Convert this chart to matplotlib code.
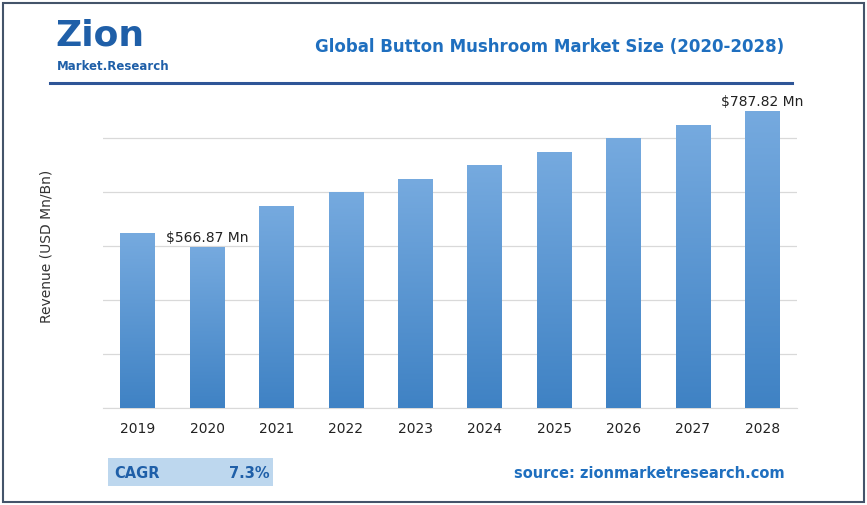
import numpy as np
import matplotlib.pyplot as plt
from matplotlib.patches import Rectangle

years = ['2019', '2020', '2021', '2022', '2023', '2024', '2025', '2026', '2027', '2028']
revenue = [589.6, 566.87, 633.5, 656.2, 677.3, 700.1, 721.2, 743.9, 765.1, 787.82]
labelled = {1: '$566.87 Mn', 9: '$787.82 Mn'}

W, H = 867, 505
fig = plt.figure(figsize=(W / 100, H / 100), dpi=100)
fig.patch.set_facecolor('white')

# outer border
fig.add_artist(Rectangle((3 / W, 3 / H), 1 - 6 / W, 1 - 6 / H, transform=fig.transFigure,
                         fill=False, edgecolor='#44546a', linewidth=1.5))

ax = fig.add_axes([103 / W, (H - 408) / H, 694 / W, 324 / H])
ymin = 305.3
ax.set_ylim(ymin, ymin + 324 * 1.6246)
ax.set_xlim(-0.5, len(years) - 0.5)

grad = np.linspace(0, 1, 256).reshape(-1, 1)
cmap = plt.matplotlib.colors.LinearSegmentedColormap.from_list('g', ['#3f82c4', '#76aadf'])
bars = ax.bar(range(len(years)), [v - ymin for v in revenue], bottom=ymin, width=0.5,
              color='none', zorder=3)
for b in bars:
    im = ax.imshow(grad, cmap=cmap, origin='lower', aspect='auto',
                   extent=[b.get_x(), b.get_x() + b.get_width(), ymin, b.get_y() + b.get_height()],
                   zorder=3)
    im.set_clip_path(b)

for i, txt in labelled.items():
    ax.text(i, revenue[i] + 4, txt, ha='center', va='bottom', fontsize=10, color='#222222')

ax.set_yticks(np.arange(ymin, ymin + 324 * 1.6246, 54 * 1.6246))
ax.yaxis.grid(True, color='#d9d9d9', linewidth=0.9, zorder=0)
ax.set_yticklabels([])
ax.tick_params(axis='y', length=0)
ax.tick_params(axis='x', length=0, pad=10, labelsize=10, colors='#222222')
ax.set_xticks(range(len(years)))
ax.set_xticklabels(years)
for s in ['top', 'right', 'left']:
    ax.spines[s].set_visible(False)
ax.spines['bottom'].set_color('#d9d9d9')
ax.set_ylabel('Revenue (USD Mn/Bn)', fontsize=10, color='#333333', labelpad=32)

# title and rule
fig.text(550 / W, 1 - 47 / H, 'Global Button Mushroom Market Size (2020-2028)', ha='center',
         va='center', fontsize=12, fontweight='bold', color='#1f6fbf')
fig.add_artist(plt.Line2D([50 / W, 792 / W], [1 - 83 / H, 1 - 83 / H], color='#2e5597',
                          linewidth=2.2, transform=fig.transFigure))

# logo
fig.text(55 / W, 1 - 36 / H, 'Zion', fontsize=26, fontweight='bold', color='#1f5fa8',
         va='center', ha='left')
fig.text(57 / W, 1 - 66 / H, 'Market.Research', fontsize=8.5, fontweight='bold', color='#1f5fa8',
         va='center', ha='left')

# CAGR box and source
fig.add_artist(Rectangle((108 / W, 1 - 486 / H), 165 / W, 28 / H, transform=fig.transFigure,
                         facecolor='#bdd7ee', edgecolor='none'))
fig.text(114 / W, 1 - 473 / H, 'CAGR', fontsize=10.5, fontweight='bold', color='#1f5fa8', va='center')
fig.text(270 / W, 1 - 473 / H, '7.3%', fontsize=10.5, fontweight='bold', color='#1f5fa8',
         va='center', ha='right')
fig.text(785 / W, 1 - 473 / H, 'source: zionmarketresearch.com', fontsize=10.5, fontweight='bold',
         color='#1f6fbf', va='center', ha='right')

fig.savefig('out.png', dpi=100)
